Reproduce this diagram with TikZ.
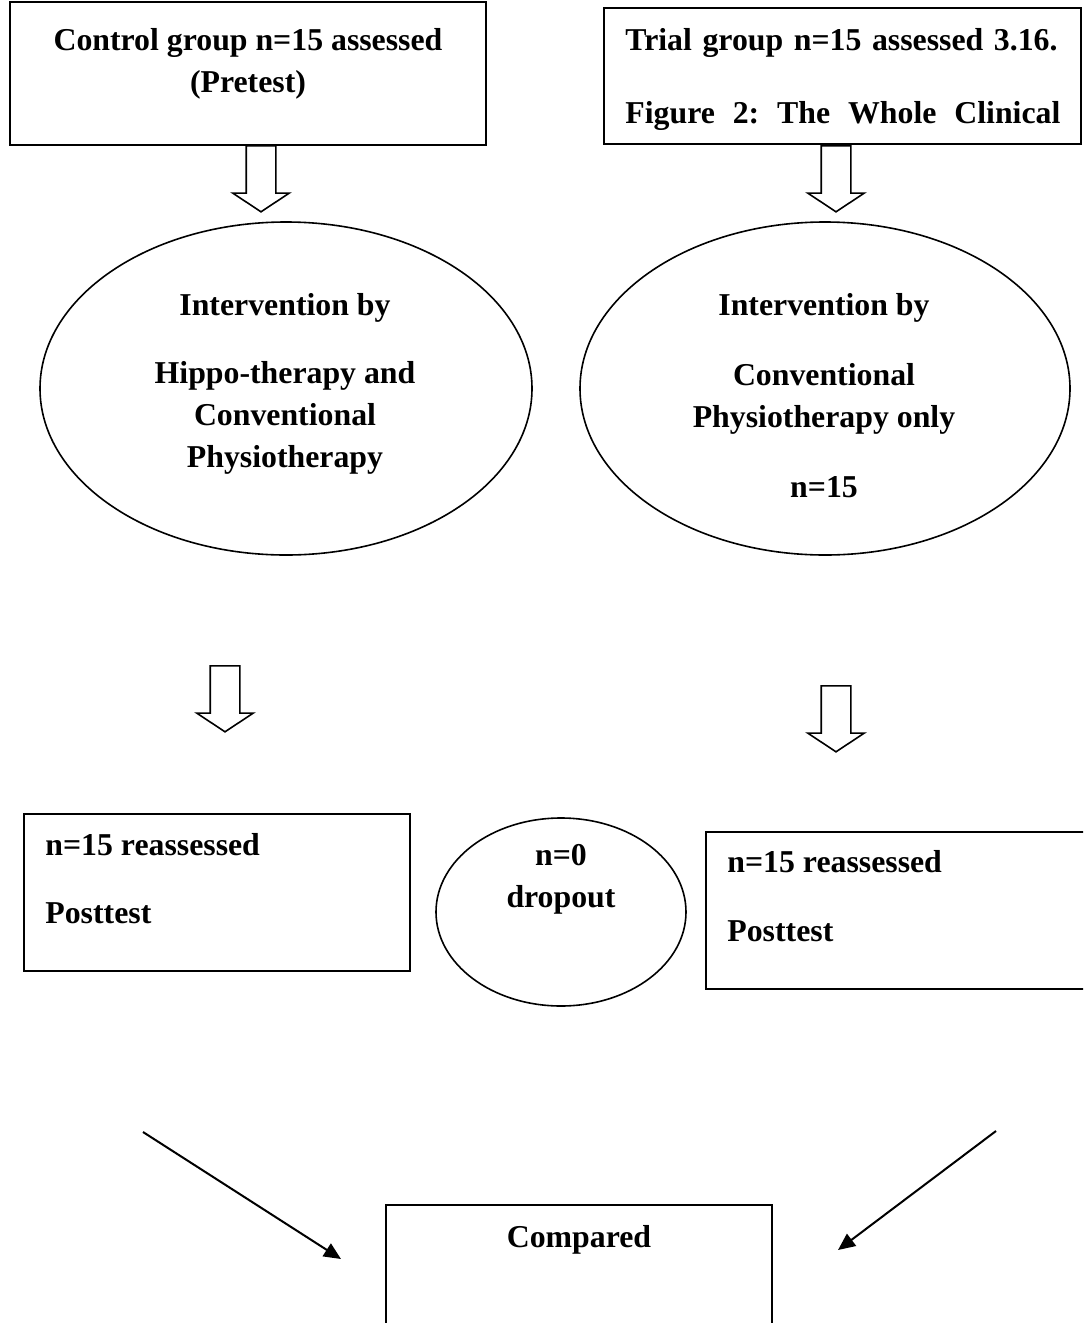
\documentclass[tikz,border=0pt]{standalone}
\usepackage{fontspec}
\setmainfont{Liberation Serif}
\usetikzlibrary{shapes.geometric}
\usetikzlibrary{shapes.arrows}
\usetikzlibrary{arrows.meta}
\frenchspacing
\tikzset{
      box/.style={draw=black, line width=1.1pt, inner sep=0},
      oval/.style={draw=black, ellipse, line width=0.8pt, inner sep=0},
      words/.style={font=\fontsize{15.9}{21}\selectfont\bfseries, inner sep=0, align=center},
      hollow/.style={single arrow, draw=black, line width=0.8pt, rotate=-90, inner xsep=0, inner ysep=7pt,
            minimum height=33pt, minimum width=27.5pt, single arrow head extend=6.75pt,
            single arrow tip angle=113, anchor=tail},
      pointer/.style={draw=black, line width=1pt, -{Triangle[length=8.5pt, width=7.5pt]}},
}
\begin{document}
\begin{tikzpicture}[x=0.5pt, y=-0.5pt]
        \useasboundingbox (0,0) rectangle (1083,1323);
        \clip (0,0) rectangle (1083,1323);

        % Groups at the start
        \node[box, minimum width=238pt, minimum height=71.5pt] (ctrl) at (248,73.5) {};
        \node[words, anchor=north] (ctrltext) at (248,28) {Control group n=15 assessed\\(Pretest)};
        \node[box, minimum width=238.5pt, minimum height=68pt] (trial) at (842.5,76) {};
        \node[words, anchor=north west, align=left, text width=217.5pt] (trialtext) at (625,28)
            {Trial group n=15 assessed 3.16.\\[15.5pt]\hbox to 217.5pt{Figure\hfill 2:\hfill The\hfill Whole\hfill Clinical}};

        \node[hollow] (arrA) at (261,145) {};
        \node[hollow] (arrB) at (836,145) {};

        % Interventions
        \node[oval, minimum width=246pt, minimum height=166.5pt] (hippo) at (286,388.5) {};
        \node[words, anchor=north] (hippotext) at (285,293)
            {Intervention by\\[13pt]Hippo-therapy and\\Conventional\\Physiotherapy};
        \node[oval, minimum width=245pt, minimum height=166.5pt] (conv) at (825,388.5) {};
        \node[words, anchor=north] (convtext) at (824,293)
            {Intervention by\\[14pt]Conventional\\Physiotherapy only\\[14pt]n=15};

        \node[hollow] (arrC) at (225,665) {};
        \node[hollow] (arrD) at (836,685) {};

        % Reassessment
        \node[box, minimum width=193pt, minimum height=78.5pt] (postL) at (217,892.5) {};
        \node[words, anchor=north west, align=left] (postLtext) at (45,833) {n=15 reassessed\\[13pt]Posttest};
        \node[oval, minimum width=125pt, minimum height=94pt] (drop) at (561,912) {};
        \node[words, anchor=north] (droptext) at (561,844) {n=0\\dropout};
        \node[box, minimum width=195pt, minimum height=78.5pt] (postR) at (901,910.5) {};
        \node[words, anchor=north west, align=left] (postRtext) at (727,850) {n=15 reassessed\\[13.5pt]Posttest};

        % Comparison
        \node[box, minimum width=193pt, minimum height=70pt] (comp) at (579,1275) {};
        \node[words, anchor=north] (comptext) at (579,1225) {Compared};

        \coordinate (fromL) at (143,1132);
        \coordinate (toL) at (341,1259);
        \coordinate (fromR) at (996,1131);
        \coordinate (toR) at (838,1250);
        \draw[pointer] (fromL) -- (toL);
        \draw[pointer] (fromR) -- (toR);

    \end{tikzpicture}
\end{document}
